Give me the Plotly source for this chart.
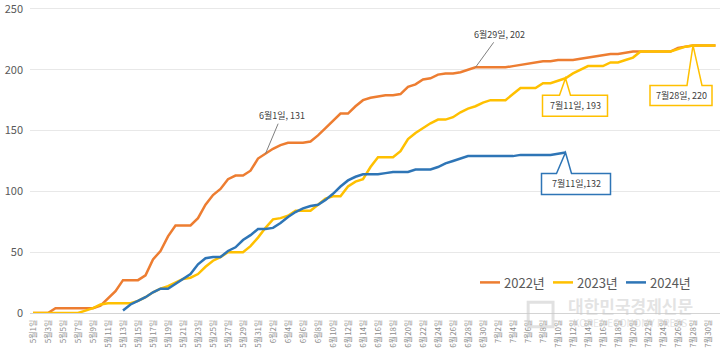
import plotly.graph_objects as go

# ---- categories (daily, 5월1일 .. 7월31일) ----
months = [(5, 31), (6, 30), (7, 31)]
dates = [f"{m}월{d}일" for m, n in months for d in range(1, n + 1)]
x_idx = list(range(len(dates)))
tick_labels = dates[::2]
tick_pos = x_idx[::2]

series_names = ["2022년", "2023년", "2024년"]

v2022 = [0, 0, 0, 4, 4, 4, 4, 4, 4, 6,
         12, 18, 27, 27, 27, 31, 44, 51, 63, 72,
         72, 72, 78, 89, 97, 102, 110, 113, 113, 117,
         127, 131, 135, 138, 140, 140, 140, 141, 146, 152,
         158, 164, 164, 170, 175, 177, 178, 179, 179, 180,
         186, 188, 192, 193, 196, 197, 197, 198, 200, 202,
         202, 202, 202, 202, 203, 204, 205, 206, 207, 207,
         208, 208, 208, 209, 210, 211, 212, 213, 213, 214,
         215, 215, 215, 215, 215, 215, 218, 219, 220, 220,
         220, 220]

v2023 = [0, 0, 0, 0, 0, 0, 0, 2, 4, 7,
         8, 8, 8, 8, 10, 13, 17, 20, 22, 25,
         28, 29, 32, 38, 43, 46, 50, 50, 50, 55,
         62, 70, 77, 78, 80, 84, 84, 84, 89, 94,
         96, 96, 104, 108, 110, 120, 128, 128, 128, 133,
         143, 148, 152, 156, 159, 159, 161, 165, 168, 170,
         173, 175, 175, 175, 180, 185, 185, 185, 189, 189,
         191, 193, 197, 200, 203, 203, 203, 206, 206, 208,
         210, 215, 215, 215, 215, 215, 217, 219, 220, 220,
         220, 220]

v2024 = [None] * 12 + [
         2, 7, 10, 13, 17, 20, 20, 24,
         28, 32, 40, 45, 46, 46, 51, 54, 60, 64,
         69, 69, 70, 74, 79, 83, 86, 88, 89, 93,
         98, 104, 109, 112, 114, 114, 114, 115, 116, 116,
         116, 118, 118, 118, 120, 123, 125, 127, 129, 129,
         129, 129, 129, 129, 129, 130, 130, 130, 130, 130,
         131, 132] + [None] * 20

colors = ["#ED7D31", "#FFC000", "#2E75B6"]
FONT = "Noto Sans CJK KR"

fig = go.Figure()
for name, vals, c in zip(series_names, [v2022, v2023, v2024], colors):
    fig.add_trace(go.Scatter(x=x_idx, y=vals, mode="lines", name=name,
                             line=dict(color=c, width=2.5), connectgaps=False,
                             showlegend=False))

# plain leader-line labels (2022 series)
for lbl, ax_, ay_ in [("6월1일", 16, -38), ("6월29일", 24, -33)]:
    i = dates.index(lbl)
    fig.add_annotation(x=i, y=v2022[i], text=f"{lbl}, {v2022[i]}", showarrow=True,
                       ax=ax_, ay=ay_, arrowhead=0, arrowwidth=1, arrowcolor="#7f7f7f",
                       standoff=0, font=dict(family=FONT, size=9, color="#404040"))

# boxed callouts with wedge pointer
callouts = [
    ("7월11일", v2023, colors[1], (-23, 42, -17, -38, -6, 5), ", "),
    ("7월28일", v2023, colors[1], (-43, 19, -40, -60, -6, 9), ", "),
    ("7월11일", v2024, colors[2], (-24, 45, -21, -42, -9, 6), ","),
]
for lbl, vals, c, (L, R, T, B, wl, wr), sep in callouts:
    i = dates.index(lbl)
    path = (f"M{L},{T} L{wl},{T} L0,0 L{wr},{T} L{R},{T} "
            f"L{R},{B} L{L},{B} Z")
    fig.add_shape(type="path", xref="x", yref="y", xsizemode="pixel", ysizemode="pixel",
                  xanchor=i, yanchor=vals[i], path=path, fillcolor="white",
                  line=dict(color=c, width=1.5), layer="above")
    fig.add_annotation(x=i, y=vals[i], text=f"{lbl}{sep}{vals[i]}", showarrow=False,
                       xshift=(L + R) / 2, yshift=(T + B) / 2,
                       font=dict(family=FONT, size=9, color="#404040"))

# legend drawn manually (short line + label), bottom-right inside the plot
PW = 690.0  # plot width in px
leg_x0 = [480, 553, 626]
leg_y = 0.1
for name, c, px in zip(series_names, colors, leg_x0):
    x0 = (px - 30) / PW
    x1 = (px - 30 + 20) / PW
    fig.add_shape(type="line", xref="paper", yref="paper", x0=x0, x1=x1, y0=leg_y, y1=leg_y,
                  line=dict(color=c, width=2.5))
    fig.add_annotation(xref="paper", yref="paper", x=x1 + 2 / PW, y=leg_y, text=name,
                       xanchor="left", yanchor="middle", showarrow=False,
                       font=dict(family=FONT, size=13, color="#595959"))

# watermark
fig.add_annotation(xref="paper", yref="paper", x=0.870, y=0.026, text="<b>대한민국경제신문</b>",
                   xanchor="center", yanchor="middle", showarrow=False,
                   font=dict(family=FONT, size=17, color="rgba(200,200,200,0.5)"))
fig.add_annotation(xref="paper", yref="paper", x=0.870, y=-0.032, text="KOREA ECONOMY PRESS",
                   xanchor="center", yanchor="middle", showarrow=False,
                   font=dict(family=FONT, size=10, color="rgba(200,200,200,0.5)"))
fig.add_shape(type="rect", xref="paper", yref="paper", x0=0.722, x1=0.758, y0=-0.045, y1=0.035,
              line=dict(color="rgba(200,200,200,0.55)", width=3))

fig.update_layout(
    width=724, height=356,
    margin=dict(l=30, r=4, t=7, b=43),
    paper_bgcolor="white", plot_bgcolor="white",
    font=dict(family=FONT, color="#595959"),
    showlegend=False,
)
fig.update_xaxes(range=[-0.4, 91.6], tickmode="array", tickvals=tick_pos, ticktext=tick_labels,
                 tickangle=-90, tickfont=dict(family=FONT, size=8, color="#8c8c8c"),
                 showgrid=False, zeroline=False, showline=False, ticks="", automargin=False,
                 ticklabelstandoff=4, ticklabeloverflow="allow")
fig.update_yaxes(range=[0, 251.6], tickvals=[0, 50, 100, 150, 200, 250],
                 gridcolor="#e8e8e8", gridwidth=1,
                 zeroline=True, zerolinecolor="#d4d4d4", zerolinewidth=1,
                 tickfont=dict(family=FONT, size=11, color="#595959"), ticks="",
                 automargin=False, ticklabelstandoff=6, ticklabeloverflow="allow")

fig.write_html("out.html", config={"displayModeBar": False},
               post_script="document.body.style.margin='0';")
